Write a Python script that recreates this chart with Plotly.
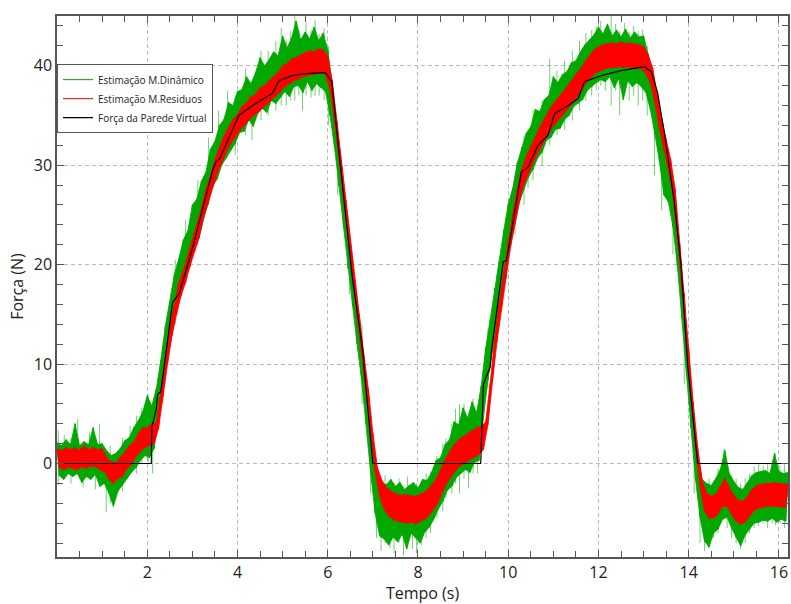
import numpy as np
import plotly.graph_objects as go

# time grid for the sampled estimates (0 .. 16.2 s, every 0.05 s)
t_est = np.round(np.arange(0, 16.2001, 0.05), 2)

green_vals = [
    2.1,-1.2, 1.8,-1.6, 2.4,-1.0, 1.9,-1.3, 4.0,-1.0, 1.8,-1.9, 2.2,-1.3, 1.9,-1.6, 3.6,-1.1, 1.9,-2.3,
    2.0,-2.0, 1.3,-3.0, 0.8,-4.3, 1.0,-2.8, 1.5,-2.2, 2.3,-1.5, 2.6,-0.9, 3.6,-0.4, 4.3,0.3, 5.2,0.8,
    6.8,0.6, 5.8,1.5, 7.5,4.2, 10.4,7.3, 13.8,10.6, 16.2,12.9, 19.0,15.6, 20.6,16.9, 22.5,18.8, 23.4,19.8,
    26.0,21.9, 26.6,22.7, 28.4,24.6, 29.3,26.1, 31.6,27.9, 32.4,28.6, 34.0,30.0, 34.6,30.7, 36.3,31.5, 36.0,32.2,
    37.4,33.3, 37.6,33.4, 38.9,34.6, 38.2,33.9, 39.3,35.2, 40.8,35.7, 40.0,35.3, 40.6,36.5, 41.4,36.2, 41.0,36.8,
    43.0,37.4, 41.8,36.9, 42.8,37.9, 44.5,38.0, 42.6,37.3, 43.4,38.4, 42.7,37.5, 43.9,38.2, 42.5,37.8, 43.3,37.4,
    41.6,35.0, 38.2,31.8, 34.3,27.9, 30.1,23.8, 26.5,19.6, 22.3,15.8, 18.0,12.0, 14.8,8.4, 10.6,4.0, 6.3,-0.9,
    1.8,-5.0, -1.2,-7.3, -2.0,-7.6, -2.1,-8.2, -1.6,-7.4, -2.3,-7.9, -1.9,-7.1, -2.6,-8.6, -2.2,-7.0, -1.9,-7.5,
    -2.5,-8.0, -1.6,-6.9, -1.7,-6.4, -0.9,-5.6, 0.3,-4.6, 0.6,-3.8, 1.9,-2.7, 2.4,-2.3, 4.2,-1.4, 3.9,-1.0,
    5.6,-0.6, 4.6,-0.9, 6.2,0.1, 5.1,0.3, 7.8,4.6, 11.6,8.4, 14.5,11.2, 17.6,14.1, 20.3,17.4, 23.4,20.1,
    26.1,22.4, 27.7,24.1, 30.2,26.3, 31.8,27.6, 33.2,28.8, 33.9,29.6, 35.6,30.7, 35.4,31.3, 36.6,32.5, 37.0,32.8,
    38.9,33.6, 38.3,33.7, 39.1,34.6, 39.4,35.0, 40.3,35.9, 40.5,36.2, 41.4,36.6, 42.1,37.5, 42.6,37.9, 43.1,38.3,
    43.9,38.6, 43.2,38.4, 44.2,38.9, 43.0,37.8, 43.6,38.7, 42.9,36.6, 43.7,38.5, 42.8,37.9, 43.4,38.3, 42.9,37.9,
    43.0,37.3, 41.2,35.6, 39.3,33.1, 36.2,30.4, 33.7,27.0, 31.6,26.3, 29.6,23.8, 26.7,19.8, 21.8,14.6, 16.2,9.1,
    10.7,3.6, 5.3,-1.6, 0.8,-5.4, -1.6,-7.8, -2.0,-8.4, -2.2,-7.0, -1.5,-6.6, -0.6,-5.6, 1.3,-5.4, -1.0,-6.5,
    -1.8,-7.4, -2.4,-8.3, -2.6,-7.2, -1.9,-6.6, -1.2,-6.0, -0.9,-5.9, -0.8,-5.7, -0.7,-5.8, -1.0,-5.5, 1.0,-5.9,
    -0.8,-5.6, -1.0,-5.8, -0.9,
]

# isolated noise spikes of the dynamic-model estimate: time, lowest, highest value
spike_t = [0.03, 0.16, 0.31, 0.46, 0.58, 0.72, 0.85, 0.94, 1.09, 1.18, 1.29, 1.45, 1.62, 1.76, 1.88, 2.02, 2.12,
           2.35, 2.62, 2.85, 3.12, 3.36, 3.58, 3.78, 3.95, 4.18, 4.32, 4.52, 4.68, 4.85, 4.97, 5.08, 5.18,
           5.27, 5.36, 5.44, 5.52, 5.63, 5.72, 5.81, 5.92, 6.02, 6.22, 6.48, 6.76, 6.95,
           7.08, 7.18, 7.27, 7.38, 7.47, 7.58, 7.68, 7.77, 7.88, 7.97, 8.08, 8.18, 8.28, 8.42, 8.55, 8.62,
           8.75, 8.83, 8.92, 9.02, 9.12, 9.22, 9.32, 9.55, 9.75, 9.95, 10.15, 10.35, 10.44, 10.55, 10.75,
           10.92, 11.08, 11.25, 11.42, 11.58, 11.72, 11.85, 11.95, 12.05, 12.15, 12.28, 12.38, 12.47, 12.58,
           12.68, 12.78, 12.88, 12.98, 13.08, 13.24, 13.40, 13.65, 13.90, 14.12, 14.25, 14.35, 14.45, 14.55,
           14.65, 14.78, 14.85, 14.95, 15.05, 15.15, 15.25, 15.35, 15.45, 15.55, 15.65, 15.75, 15.85, 15.92,
           16.02, 16.12]
spike_lo = [-2.2, -1.0, -2.0, 0.0, -2.4, 0.0, -2.6, 0.0, -4.9, -4.0, -3.5, -2.8, 0.0, -1.0, 0.0, 0.0, -1.0,
            6.0, 14.0, 18.0, 22.0, 26.0, 29.0, 31.0, 31.0, 33.0, 32.5, 34.5, 35.0, 35.5, 36.0, 36.0, 36.5,
            36.5, 37.0, 35.5, 37.0, 36.8, 37.0, 37.0, 36.5, 34.0, 27.0, 17.0, 6.0, -3.0,
            -7.5, -8.8, -8.0, -8.5, -9.0, -8.0, -9.2, -8.0, -8.6, -9.0, -8.2, -7.5, -7.0, -5.5, -4.8, -3.5,
            -3.0, -2.0, -3.0, -1.5, -2.5, -1.0, -1.0, 7.5, 13.0, 19.0, 23.0, 26.0, 27.7, 28.5, 30.0,
            32.0, 33.0, 33.5, 34.5, 35.5, 36.5, 37.0, 37.5, 38.0, 37.5, 36.0, 37.5, 35.0, 37.0,
            36.5, 37.0, 36.0, 36.5, 35.0, 29.0, 25.5, 21.0, 8.0, -3.0, -8.0, -8.8, -8.5, -7.5,
            -7.0, -5.5, -6.5, -7.5, -8.0, -8.6, -8.0, -7.0, -6.5, -6.3, -6.0, -6.5, -6.0, -6.2,
            -6.0, -6.5]
spike_hi = [3.3, 2.9, 2.6, 4.5, 2.2, 3.1, 2.0, 4.0, 0.0, 1.8, 0.0, 2.6, 3.8, 4.8, 5.6, 7.0, 4.0,
            11.8, 20.5, 24.5, 28.5, 32.8, 35.5, 37.5, 37.0, 39.7, 38.0, 41.5, 41.5, 42.5, 43.8, 42.6, 43.5,
            45.0, 43.6, 42.5, 44.3, 43.6, 44.6, 43.2, 43.8, 42.0, 34.0, 22.5, 14.0, 5.0,
            -3.0, -4.0, -1.2, -3.5, -2.0, -1.5, -3.0, -1.3, -3.0, -2.0, -2.5, -1.0, -0.8, 0.8, 2.0, 2.5,
            4.0, 5.5, 6.0, 6.0, 5.0, 6.5, 4.5, 13.5, 19.0, 24.5, 29.0, 33.0, 33.0, 35.5, 36.5,
            40.7, 39.5, 40.5, 41.5, 42.5, 43.3, 43.6, 44.0, 44.5, 43.8, 45.0, 44.2, 43.5, 44.3,
            43.4, 44.0, 43.5, 43.6, 42.0, 36.0, 33.0, 28.5, 16.5, 5.0, -1.5, -2.0, -1.5, -1.8,
            -0.5, 1.5, 0.0, -1.2, -1.5, -2.0, -1.5, -1.0, -0.3, 0.0, -0.2, 0.0, 0.2, 1.0,
            -0.2, 0.0]

red_vals = [
    1.5,-0.4, 1.3,-0.65, 1.6,-0.35, 1.4,-0.5, 1.6,-0.65, 1.3,-0.35, 1.8,-0.5, 1.4,-0.25, 1.6,-0.3, 1.4,-0.65,
    1.5,-0.8, 0.6,-1.6, 0.2,-2.0, 0.1,-1.5, 0.6,-1.3, 1.1,-0.5, 1.8,-0.1, 2.1,0.7, 3.0,1.2, 3.6,1.6,
    3.6,1.8, 4.0,2.0, 4.1,3.5, 7.1,6.8, 10.4,10.0, 13.6,12.9, 15.9,15.0, 18.2,16.9, 19.4,18.2, 21.0,19.9,
    22.4,21.3, 24.1,22.7, 25.7,24.8, 27.6,26.2, 28.9,27.7, 30.6,29.2, 31.7,30.3, 32.9,31.3, 33.8,32.2, 34.6,32.8,
    35.1,33.5, 35.9,34.0, 36.3,34.5, 36.9,35.0, 37.1,35.3, 37.8,35.7, 38.0,36.1, 38.5,36.5, 38.9,37.0, 39.3,37.4,
    40.0,37.9, 40.2,38.2, 40.7,38.5, 40.8,38.6, 41.1,38.9, 41.3,39.0, 41.5,39.1, 41.4,39.2, 41.7,39.3, 41.6,39.1,
    40.9,37.6, 38.5,34.5, 34.5,30.6, 30.5,26.5, 26.5,22.6, 22.5,18.6, 18.5,14.8, 15.0,11.1, 11.0,7.3, 7.5,3.3,
    3.1,-0.8, -0.4,-3.3, -1.7,-4.6, -2.4,-5.3, -2.8,-5.6, -3.0,-5.8, -3.2,-5.9, -3.1,-6.0, -3.2,-5.9, -3.3,-6.1,
    -3.2,-5.8, -3.0,-5.6, -2.7,-5.2, -2.2,-4.6, -1.6,-3.9, -0.6,-2.8, 0.4,-1.9, 1.2,-1.2, 1.9,-0.6, 2.4,-0.2,
    2.7,0.1, 3.0,0.4, 3.3,0.6, 3.6,0.9, 3.7,1.4, 4.2,3.9, 8.1,8.2, 12.5,12.2, 16.1,15.5, 19.1,18.6,
    22.5,21.7, 25.1,24.2, 27.6,26.4, 29.6,28.1, 30.9,29.2, 31.9,30.2, 32.9,31.2, 33.8,32.0, 34.7,32.8, 35.4,33.6,
    36.2,34.2, 36.7,34.8, 37.3,35.3, 37.8,35.8, 38.4,36.4, 39.0,37.0, 39.7,37.7, 40.4,38.4, 41.0,38.9, 41.6,39.3,
    41.9,39.5, 42.1,39.7, 42.2,39.8, 42.3,39.8, 42.2,39.9, 42.4,39.8, 42.2,39.9, 42.3,39.8, 42.2,39.8, 42.1,39.7,
    41.9,39.2, 41.1,38.3, 39.8,36.3, 37.1,33.7, 34.6,31.5, 32.6,29.5, 30.6,27.0, 27.6,22.7, 22.1,17.5, 17.1,12.2,
    11.6,6.7, 6.1,1.7, 1.6,-2.3, -1.8,-4.8, -3.0,-5.5, -3.3,-5.5, -3.1,-5.1, -2.3,-4.3, -1.5,-4.3, -2.4,-5.1,
    -3.2,-5.8, -3.7,-6.1, -3.8,-5.9, -3.3,-5.3, -2.6,-4.7, -2.2,-4.5, -2.1,-4.4, -2.0,-4.3, -2.0,-4.3, -1.9,-4.3,
    -2.0,-4.4, -2.1,-4.4, -2.1,
]

black_t = [0, 2.09, 2.10, 2.20, 2.23, 2.30, 2.49, 2.56, 2.71, 3.00, 3.22, 3.45, 3.52, 3.60,
           4.03, 4.40, 4.77, 4.92, 5.21, 5.50, 5.95, 6.09, 6.24, 6.39, 6.54, 6.69, 6.78,
           6.83, 6.98, 7.00, 9.39, 9.40, 9.45, 9.60, 9.63, 9.89, 9.96, 10.07, 10.29, 10.44,
           10.66, 10.88, 11.03, 11.33, 11.55, 11.69, 12.06, 12.50, 12.80, 13.02, 13.17, 13.31,
           13.46, 13.57, 13.68, 13.83, 13.98, 14.16, 14.20, 16.20]
black_v = [0, 0, 3.6, 5.5, 7.0, 7.2, 13.7, 16.2, 17.1, 21.6, 25.5, 29.5, 30.3, 30.6,
           35.0, 36.2, 37.2, 38.5, 39.0, 39.2, 39.3, 38.4, 31.7, 25.0, 18.9, 14.1, 11.2,
           8.4, 0.2, 0, 0, 1.7, 8.0, 9.7, 11.4, 20.3, 20.4, 23.3, 29.3, 29.8,
           32.0, 33.0, 35.2, 36.0, 36.7, 38.4, 39.0, 39.5, 39.7, 39.9, 39.4, 37.3,
           33.3, 29.6, 26.3, 19.9, 9.7, 1.7, 0, 0]

names = ["Estimação M.Dinâmico", "Estimação M.Residuos", "Força da Parede Virtual"]
x_ticks = [2, 4, 6, 8, 10, 12, 14, 16]
y_ticks = [0, 10, 20, 30, 40]

assert len(green_vals) == len(t_est) == len(red_vals)
assert len(spike_t) == len(spike_lo) == len(spike_hi)

GREEN = "rgb(0,168,0)"
GREEN_LIGHT = "rgba(0,168,0,0.55)"
RED = "rgb(255,0,0)"


def band(vals):
    """Polygon through the sample peaks (even samples) and back through the troughs (odd samples)."""
    t_hi, v_hi = list(t_est[0::2]), list(vals[0::2])
    t_lo, v_lo = list(t_est[1::2]), list(vals[1::2])
    return t_hi + t_lo[::-1], v_hi + v_lo[::-1]


fig = go.Figure()

# spikes (drawn first, behind the dense band)
sx, sy = [], []
for t, lo, hi in zip(spike_t, spike_lo, spike_hi):
    sx += [t, t, None]
    sy += [lo, hi, None]
fig.add_trace(go.Scatter(x=sx, y=sy, mode="lines", line=dict(color=GREEN_LIGHT, width=1),
                         showlegend=False, hoverinfo="skip", connectgaps=False))

gx, gy = band(green_vals)
fig.add_trace(go.Scatter(x=gx, y=gy, mode="lines", fill="toself", fillcolor=GREEN,
                         line=dict(color=GREEN, width=0.8), showlegend=False, hoverinfo="skip"))
fig.add_trace(go.Scatter(x=t_est, y=green_vals, mode="lines", name=names[0],
                         line=dict(color=GREEN, width=1)))

rx, ry = band(red_vals)
fig.add_trace(go.Scatter(x=rx, y=ry, mode="lines", fill="toself", fillcolor=RED,
                         line=dict(color=RED, width=0.8), showlegend=False, hoverinfo="skip"))
fig.add_trace(go.Scatter(x=t_est, y=red_vals, mode="lines", name=names[1],
                         line=dict(color=RED, width=1)))

fig.add_trace(go.Scatter(x=black_t, y=black_v, mode="lines", name=names[2],
                         line=dict(color="black", width=1.2)))

axis_common = dict(
    showline=True, linecolor="#555", linewidth=1.5, mirror="allticks",
    ticks="inside", ticklen=7, tickcolor="#555", tickwidth=1,
    showgrid=True, gridcolor="#bbbbbb", gridwidth=1, griddash="4px,3px",
    zeroline=False,
    tickfont=dict(family="Open Sans", size=16, color="#222"),
)

fig.update_xaxes(range=[0, 16.2], tickvals=x_ticks, ticktext=[str(v) for v in x_ticks],
                 minor=dict(dtick=0.5, ticks="inside", ticklen=6, tickcolor="#555", showgrid=False),
                 title=dict(text="Tempo (s)", font=dict(family="Open Sans", size=16, color="#222"), standoff=6),
                 **axis_common)
fig.update_yaxes(range=[-9.4, 45.0], tickvals=y_ticks, ticktext=[str(v) for v in y_ticks],
                 minor=dict(dtick=2, tick0=0, ticks="inside", ticklen=6, tickcolor="#555", showgrid=False),
                 title=dict(text="Força (N)", font=dict(family="Open Sans", size=16, color="#222"), standoff=6),
                 **axis_common)

fig.update_layout(
    width=791, height=604,
    margin=dict(l=57, r=1, t=16, b=47),
    plot_bgcolor="white", paper_bgcolor="white",
    showlegend=True,
    legend=dict(x=0, y=0.911, xanchor="left", yanchor="top",
                bgcolor="white", bordercolor="#555", borderwidth=1,
                font=dict(family="Open Sans", size=10, color="#222"),
                tracegroupgap=0),
)

fig.write_html("out.html")
